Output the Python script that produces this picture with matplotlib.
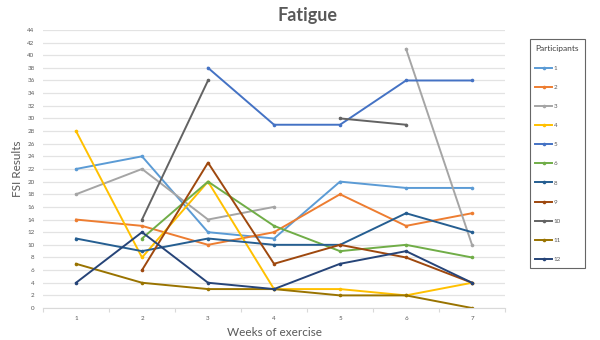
import numpy as np
import matplotlib
matplotlib.use("Agg")
import matplotlib.pyplot as plt

plt.rcParams['font.family'] = ['Lato', 'DejaVu Sans']

nan = np.nan
weeks = [1, 2, 3, 4, 5, 6, 7]

# FSI results per participant (nan = no measurement that week)
p1 = [22, 24, 12, 11, 20, 19, 19]
p2 = [14, 13, 10, 12, 18, 13, 15]
p3 = [18, 22, 14, 16, nan, 41, 10]
p4 = [28, 8, 20, 3, 3, 2, 4]
p5 = [nan, nan, 38, 29, 29, 36, 36]
p6 = [nan, 11, 20, 13, 9, 10, 8]
p8 = [11, 9, 11, 10, 10, 15, 12]
p9 = [nan, 6, 23, 7, 10, 8, 4]
p10 = [nan, 14, 36, nan, 30, 29, nan]
p11 = [7, 4, 3, 3, 2, 2, 0]
p12 = [4, 12, 4, 3, 7, 9, 4]

participants = ['1', '2', '3', '4', '5', '6', '8', '9', '10', '11', '12']
series = [p1, p2, p3, p4, p5, p6, p8, p9, p10, p11, p12]
colors = ['#5B9BD5', '#ED7D31', '#A5A5A5', '#FFC000', '#4472C4', '#70AD47',
          '#255E91', '#9E480E', '#636363', '#997300', '#264478']

fig = plt.figure(figsize=(6, 3.4), dpi=100)
ax = fig.add_axes([0.0717, 0.094, 0.770, 0.818])

for name, vals, c in zip(participants, series, colors):
    ax.plot(weeks, vals, color=c, lw=1.4, marker='o', ms=2.6,
            markeredgewidth=0, label=name)

ax.set_xlim(0.5, 7.5)
ax.set_ylim(0, 44)
ax.set_yticks(range(0, 45, 2))
ax.set_xticks(weeks)
ax.set_xticks(np.arange(0.5, 8, 1), minor=True)
ax.tick_params(axis='y', length=0, labelsize=4.5, labelcolor='#595959', pad=6)
ax.tick_params(axis='x', which='major', length=0, labelsize=4.5,
               labelcolor='#595959', pad=6)
ax.tick_params(axis='x', which='minor', length=3, color='#D9D9D9', width=0.8)
ax.grid(axis='y', color='#E3E3E3', lw=0.9)
ax.set_axisbelow(True)
for s in ['top', 'right', 'left']:
    ax.spines[s].set_visible(False)
ax.spines['bottom'].set_color('#D9D9D9')

ax.set_ylabel('FSI Results', fontsize=8.5, color='#595959', labelpad=3)
ax.set_xlabel('Weeks of exercise', fontsize=8.5, color='#595959', labelpad=4)
fig.text(0.513, 0.955, 'Fatigue', ha='center', va='center', fontsize=13,
         fontweight='bold', color='#595959')

leg = fig.legend(loc='upper left', bbox_to_anchor=(0.883, 0.885),
                 title='Participants', fontsize=4.5, title_fontsize=6,
                 frameon=True, fancybox=False, edgecolor='#404040',
                 handlelength=2.6, labelspacing=2.2, borderpad=0.9,
                 handletextpad=0.3, borderaxespad=0)
leg.get_frame().set_linewidth(0.8)
for t in leg.get_texts():
    t.set_color('#595959')
leg.get_title().set_color('#404040')
leg._legend_box.align = 'left'

fig.savefig('out.png', dpi=100, facecolor='white')
